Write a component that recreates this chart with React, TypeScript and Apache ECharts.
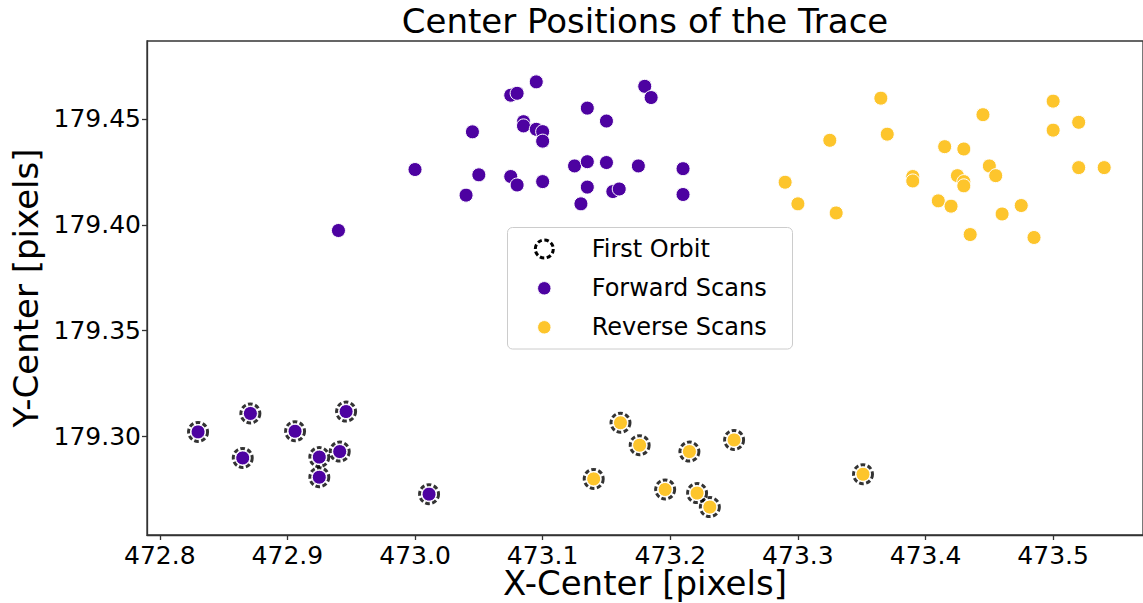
import React, { useEffect, useRef } from "react";
import * as echarts from "echarts";

const titleText = "Center Positions of the Trace";
const xName = "X-Center [pixels]";
const yName = "Y-Center [pixels]";
const legendNames = ["First Orbit", "Forward Scans", "Reverse Scans"];

const xTicks = [472.8, 472.9, 473.0, 473.1, 473.2, 473.3, 473.4, 473.5];
const yTicks = [179.3, 179.35, 179.4, 179.45];

// Forward scans, later orbits (upper cluster)
const forwardLater: [number, number][] = [
  [473.045, 179.4439], [473.0, 179.4261], [473.05, 179.4236], [473.04, 179.414],
  [472.94, 179.3973], [473.095, 179.4675], [473.075, 179.4612], [473.08, 179.4621],
  [473.135, 179.4551], [473.18, 179.4654], [473.185, 179.4601], [473.085, 179.4487],
  [473.085, 179.4467], [473.095, 179.4451], [473.1, 179.444], [473.1, 179.4395],
  [473.15, 179.449], [473.125, 179.4278], [473.135, 179.4298], [473.15, 179.4294],
  [473.175, 179.4278], [473.21, 179.4265], [473.075, 179.4228], [473.08, 179.4188],
  [473.1, 179.4204], [473.135, 179.4178], [473.155, 179.4157], [473.16, 179.4169],
  [473.13, 179.4099], [473.21, 179.4143],
];

// Forward scans, first orbit
const forwardFirst: [number, number][] = [
  [472.83, 179.3022], [472.871, 179.3109], [472.865, 179.2899], [472.906, 179.3025],
  [472.925, 179.2903], [472.925, 179.2808], [472.941, 179.2929], [472.946, 179.3118],
  [473.011, 179.2728],
];

// Reverse scans, later orbits
const reverseLater: [number, number][] = [
  [473.325, 179.4399], [473.29, 179.4201], [473.3, 179.4099], [473.33, 179.4056],
  [473.365, 179.4598], [473.37, 179.4428], [473.39, 179.4228], [473.39, 179.4207],
  [473.41, 179.4113], [473.415, 179.4369], [473.42, 179.4088], [473.425, 179.4232],
  [473.43, 179.4358], [473.43, 179.4204], [473.43, 179.4184], [473.435, 179.3954],
  [473.445, 179.452], [473.45, 179.4278], [473.455, 179.4232], [473.46, 179.4051],
  [473.475, 179.4091], [473.485, 179.394], [473.5, 179.4584], [473.5, 179.4447],
  [473.52, 179.4484], [473.52, 179.427], [473.54, 179.427],
];

// Reverse scans, first orbit
const reverseFirst: [number, number][] = [
  [473.161, 179.3065], [473.176, 179.2959], [473.14, 179.28], [473.196, 179.275],
  [473.215, 179.2929], [473.221, 179.2733], [473.231, 179.2667], [473.25, 179.2984],
  [473.351, 179.2822],
];

const PURPLE = "#4d02a1";
const YELLOW = "#fdc52c";
const FONT = "DejaVu Sans";

export default function App() {
  const ref = useRef<HTMLDivElement>(null);
  useEffect(() => {
    if (!ref.current) return;
    const chart = echarts.init(ref.current, undefined, { renderer: "svg" });
    const dashed = [4.5, 2.5];
    chart.setOption({
      animation: false,
      backgroundColor: "#fff",
      title: {
        text: titleText,
        left: 645,
        top: 4,
        textAlign: "center",
        padding: 0,
        textStyle: { fontFamily: FONT, fontSize: 34, fontWeight: "normal", color: "#000" },
      },
      grid: {
        left: 147,
        top: 41,
        right: 0,
        bottom: 68,
        show: true,
        borderColor: "#333",
        borderWidth: 1.3,
        containLabel: false,
        outerBoundsMode: "none",
      },
      xAxis: {
        type: "value",
        min: 472.79,
        max: 473.5704,
        name: xName,
        nameLocation: "middle",
        nameGap: 34,
        nameMoveOverlap: false,
        nameTextStyle: { fontFamily: FONT, fontSize: 34, color: "#000", lineHeight: 28 },
        axisLine: { show: true, lineStyle: { color: "#333", width: 1.3 } },
        axisTick: { show: true, length: 5, customValues: xTicks, lineStyle: { color: "#333", width: 1.3 } },
        axisLabel: {
          customValues: xTicks,
          formatter: (v: number) => v.toFixed(1),
          fontFamily: FONT,
          fontSize: 25,
          lineHeight: 24,
          color: "#000",
          margin: 8,
        },
        splitLine: { show: false },
      },
      yAxis: {
        type: "value",
        min: 179.2535,
        max: 179.4868,
        name: yName,
        nameLocation: "middle",
        nameGap: 102,
        nameRotate: 90,
        nameTextStyle: { fontFamily: FONT, fontSize: 34, color: "#000" },
        axisLine: { show: true, lineStyle: { color: "#333", width: 1.3 } },
        axisTick: { show: true, length: 5, customValues: yTicks, lineStyle: { color: "#333", width: 1.3 } },
        axisLabel: {
          customValues: yTicks,
          formatter: (v: number) => v.toFixed(2),
          fontFamily: FONT,
          fontSize: 25,
          color: "#000",
          margin: 6,
        },
        splitLine: { show: false },
      },
      series: [
        {
          name: legendNames[0],
          type: "scatter",
          silent: true,
          z: 1,
          symbol: "circle",
          symbolSize: 19,
          data: [...forwardFirst, ...reverseFirst],
          itemStyle: {
            color: "rgba(255,255,255,0)",
            borderColor: "#000",
            borderWidth: 3,
            borderType: dashed,
          },
        },
        {
          name: legendNames[1],
          type: "scatter",
          silent: true,
          z: 2,
          symbol: "circle",
          symbolSize: 14,
          data: [...forwardLater, ...forwardFirst],
          itemStyle: { color: PURPLE, borderColor: "#fff", borderWidth: 1, opacity: 1 },
        },
        {
          name: legendNames[2],
          type: "scatter",
          silent: true,
          z: 2,
          symbol: "circle",
          symbolSize: 14,
          data: [...reverseLater, ...reverseFirst],
          itemStyle: { color: YELLOW, borderColor: "#fff", borderWidth: 1, opacity: 1 },
        },
      ],
      graphic: [
        {
          type: "group",
          z: 100,
          children: [
            {
              type: "rect",
              shape: { x: 507.5, y: 227.5, width: 285, height: 121.5, r: 5 },
              style: { fill: "rgba(255,255,255,0.8)", stroke: "#cccccc", lineWidth: 1 },
            },
            {
              type: "circle",
              shape: { cx: 544.3, cy: 249, r: 9 },
              style: { fill: "rgba(255,255,255,0)", stroke: "#000", lineWidth: 3, lineDash: dashed },
            },
            {
              type: "circle",
              shape: { cx: 544.3, cy: 288.3, r: 6.7 },
              style: { fill: PURPLE, stroke: "#fff", lineWidth: 1 },
            },
            {
              type: "circle",
              shape: { cx: 544.3, cy: 327.3, r: 6.7 },
              style: { fill: YELLOW, stroke: "#fff", lineWidth: 1 },
            },
            {
              type: "text",
              x: 591.7,
              y: 249,
              style: { text: legendNames[0], fontFamily: FONT, fontSize: 24, fill: "#000", verticalAlign: "middle" },
            },
            {
              type: "text",
              x: 591.7,
              y: 288.3,
              style: { text: legendNames[1], fontFamily: FONT, fontSize: 24, fill: "#000", verticalAlign: "middle" },
            },
            {
              type: "text",
              x: 591.7,
              y: 327.3,
              style: { text: legendNames[2], fontFamily: FONT, fontSize: 24, fill: "#000", verticalAlign: "middle" },
            },
          ],
        },
      ],
    });
    return () => chart.dispose();
  }, []);
  return (
    <div
      ref={ref}
      style={{ position: "fixed", left: 0, top: 0, width: 1143, height: 603 }}
    />
  );
}
